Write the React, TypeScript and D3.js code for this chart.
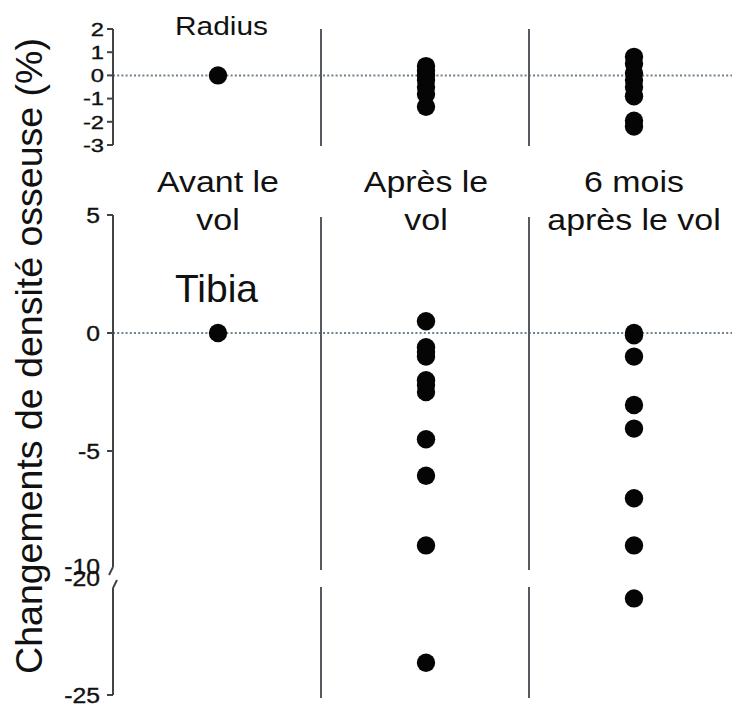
import React from 'react';
import * as d3 from 'd3';

const categories = ['Avant le vol', 'Après le vol', '6 mois après le vol'];
const categoryLines = [['Avant le', 'vol'], ['Après le', 'vol'], ['6 mois', 'après le vol']];

const radiusBefore = [0];
const radiusAfter = [0.4, 0.2, 0, -0.2, -0.5, -0.8, -1.35];
const radius6m = [0.8, 0.5, 0.1, -0.2, -0.5, -0.9, -1.95, -2.2];

const tibiaBefore = [0];
const tibiaAfter = [0.5, -0.6, -0.8, -1.0, -2.0, -2.2, -2.5, -4.5, -6.05, -9.0, -23.6];
const tibia6m = [0, -0.1, -1.0, -3.05, -4.05, -7.0, -9.0, -20.8];

const radiusTicks = [2, 1, 0, -1, -2, -3];
const tibiaUpperTicks = [5, 0, -5, -10];
const tibiaLowerTicks = [-20, -25];

const W = 732;
const H = 707;
const FONT = "'Liberation Sans', Arial, Helvetica, sans-serif";
const AXIS = '#3f4449';
const DIV = '#555b60';
const DOT = '#6f818d';
const INK = '#111';

export default function App() {
  const x = d3.scaleBand<string>().domain(categories).range([113, 737]).padding(0);
  const cx = (c: string) => (x(c) as number) + x.bandwidth() / 2;
  const axisX = 113;

  const yR = d3.scaleLinear().domain([2, -3]).range([29, 145]);
  const yTU = d3.scaleLinear().domain([5, -10]).range([215, 569]);
  const yTL = d3.scaleLinear().domain([-20, -25]).range([580, 695]);
  const yT = (v: number) => (v >= -10 ? yTU(v) : yTL(v));

  const radiusSeries = [radiusBefore, radiusAfter, radius6m];
  const tibiaSeries = [tibiaBefore, tibiaAfter, tibia6m];

  const dividers = categories.slice(1).map((c) => x(c) as number);

  const tickText = (t: number, xPos: number, y: number, size: number, sx: number, key: string) => (
    <text
      key={key}
      transform={`translate(${xPos},${y}) scale(${sx},1)`}
      textAnchor="end"
      dy="0.36em"
      fontSize={size}
      fill={INK}
      stroke={INK}
      strokeWidth={0.35}
    >
      {t}
    </text>
  );

  return (
    <svg
      width={W}
      height={H}
      style={{ position: 'absolute', left: 0, top: 0, background: '#fff' }}
      fontFamily={FONT}
    >
      <rect x={0} y={0} width={W} height={H} fill="#fff" />

      {/* Y title */}
      <text
        transform={`translate(42,356) rotate(-90)`}
        textAnchor="middle"
        fontSize={37.5}
        fill={INK}
      >
        Changements de densité osseuse (%)
      </text>

      {/* zero dotted lines */}
      <line x1={axisX} x2={W} y1={yR(0)} y2={yR(0)} stroke={DOT} strokeWidth={2} strokeDasharray="2 2.2" />
      <line x1={axisX} x2={W} y1={yTU(0)} y2={yTU(0)} stroke={DOT} strokeWidth={2} strokeDasharray="2 2.2" />

      {/* Radius axis */}
      <line x1={axisX} x2={axisX} y1={yR(2)} y2={yR(-3)} stroke={AXIS} strokeWidth={2} />
      {radiusTicks.map((t) => (
        <g key={'rt' + t}>
          <line x1={axisX - 6} x2={axisX} y1={yR(t)} y2={yR(t)} stroke={AXIS} strokeWidth={2} />
          {tickText(t, 104, yR(t), 19, 1.25, 'rtt' + t)}
        </g>
      ))}

      {/* Tibia axis upper */}
      <line x1={axisX} x2={axisX} y1={yTU(5)} y2={yTU(-10) - 2} stroke={AXIS} strokeWidth={2} />
      <line x1={axisX} x2={axisX - 4} y1={yTU(-10) - 2} y2={yTU(-10) + 6} stroke={AXIS} strokeWidth={2} />
      {tibiaUpperTicks.map((t) => (
        <g key={'tu' + t}>
          {t !== -10 && (
            <line x1={axisX - 6} x2={axisX} y1={yTU(t)} y2={yTU(t)} stroke={AXIS} strokeWidth={2} />
          )}
          {tickText(t, 100, t === -10 ? yTU(t) - 3 : yTU(t), 21.5, 1.15, 'tut' + t)}
        </g>
      ))}

      {/* Tibia axis lower */}
      <line x1={axisX + 4} x2={axisX} y1={yTL(-20)} y2={yTL(-20) + 8} stroke={AXIS} strokeWidth={2} />
      <line x1={axisX} x2={axisX} y1={yTL(-20) + 8} y2={yTL(-25)} stroke={AXIS} strokeWidth={2} />
      {tibiaLowerTicks.map((t) => (
        <g key={'tl' + t}>
          {t !== -20 && (
            <line x1={axisX - 6} x2={axisX} y1={yTL(t)} y2={yTL(t)} stroke={AXIS} strokeWidth={2} />
          )}
          {tickText(t, 100, t === -20 ? yTL(t) - 2 : yTL(t), 21.5, 1.15, 'tlt' + t)}
        </g>
      ))}

      {/* dividers */}
      {dividers.map((d, i) => (
        <g key={'dv' + i}>
          <line x1={d} x2={d} y1={yR(2)} y2={yR(-3) + 1} stroke={DIV} strokeWidth={2} />
          <line x1={d} x2={d} y1={yTU(5) + 2} y2={yTU(-10) + 1} stroke={DIV} strokeWidth={2} />
          <line x1={d} x2={d} y1={yTL(-20) + 7} y2={yTL(-25) + 3} stroke={DIV} strokeWidth={2} />
        </g>
      ))}

      {/* panel labels */}
      <text transform={`translate(221.5,35) scale(1.15,1)`} textAnchor="middle" fontSize={26} fill={INK}>
        Radius
      </text>
      <text x={216.5} y={302} textAnchor="middle" fontSize={39} fill={INK}>
        Tibia
      </text>

      {/* category labels */}
      {categories.map((c, i) => (
        <g key={'cl' + i}>
          {categoryLines[i].map((ln, j) => (
            <text
              key={j}
              transform={`translate(${cx(c) + 1},${192 + j * 38}) scale(1.15,1)`}
              textAnchor="middle"
              fontSize={29.5}
              fill={INK}
            >
              {ln}
            </text>
          ))}
        </g>
      ))}

      {/* dots */}
      {radiusSeries.map((vals, i) =>
        vals.map((v, j) => (
          <circle key={`r${i}-${j}`} cx={cx(categories[i]) + 1} cy={yR(v)} r={9.2} fill="#050505" />
        ))
      )}
      {tibiaSeries.map((vals, i) =>
        vals.map((v, j) => (
          <circle key={`t${i}-${j}`} cx={cx(categories[i]) + 1} cy={yT(v)} r={9.2} fill="#050505" />
        ))
      )}
    </svg>
  );
}
